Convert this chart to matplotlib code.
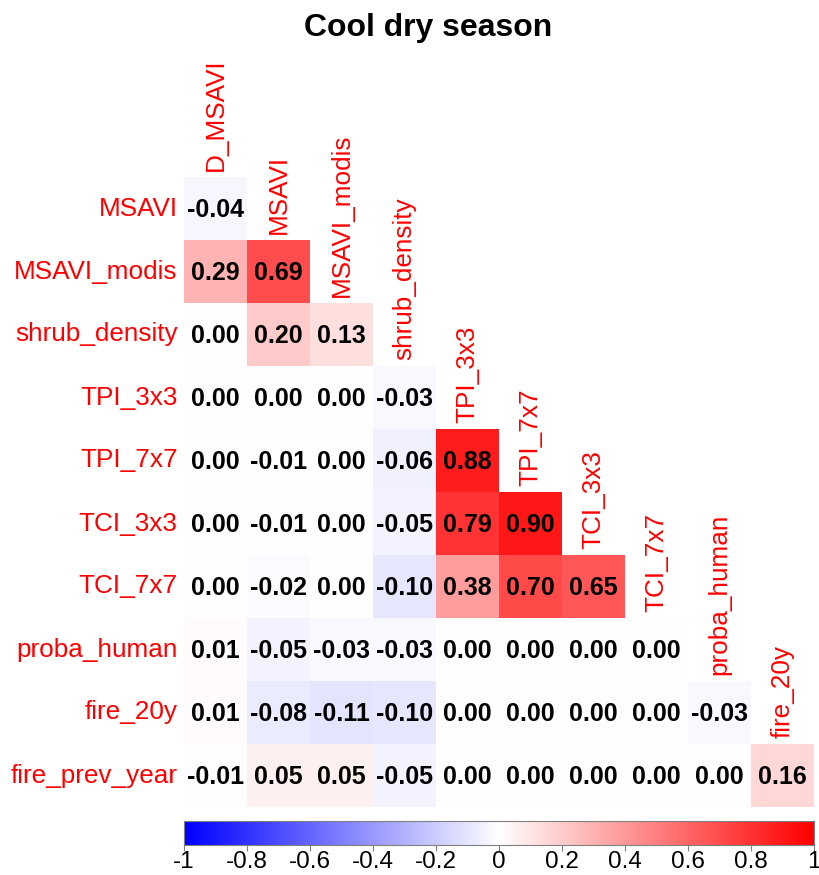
import numpy as np
import matplotlib
matplotlib.use("Agg")
import matplotlib.pyplot as plt
from matplotlib.colors import LinearSegmentedColormap

plt.rcParams['font.family'] = ['Liberation Sans', 'DejaVu Sans']

col_names = ["D_MSAVI", "MSAVI", "MSAVI_modis", "shrub_density", "TPI_3x3",
             "TPI_7x7", "TCI_3x3", "TCI_7x7", "proba_human", "fire_20y"]
row_names = ["MSAVI", "MSAVI_modis", "shrub_density", "TPI_3x3", "TPI_7x7",
             "TCI_3x3", "TCI_7x7", "proba_human", "fire_20y", "fire_prev_year"]

# lower-triangle correlations, one list per row
r_msavi = [-0.04]
r_msavi_modis = [0.29, 0.69]
r_shrub = [0.00, 0.20, 0.13]
r_tpi3 = [0.00, 0.00, 0.00, -0.03]
r_tpi7 = [0.00, -0.01, 0.00, -0.06, 0.88]
r_tci3 = [0.00, -0.01, 0.00, -0.05, 0.79, 0.90]
r_tci7 = [0.00, -0.02, 0.00, -0.10, 0.38, 0.70, 0.65]
r_human = [0.01, -0.05, -0.03, -0.03, 0.00, 0.00, 0.00, 0.00]
r_fire20 = [0.01, -0.08, -0.11, -0.10, 0.00, 0.00, 0.00, 0.00, -0.03]
r_fireprev = [-0.01, 0.05, 0.05, -0.05, 0.00, 0.00, 0.00, 0.00, 0.00, 0.16]
rows = [r_msavi, r_msavi_modis, r_shrub, r_tpi3, r_tpi7,
        r_tci3, r_tci7, r_human, r_fire20, r_fireprev]

n = len(row_names)
mat = np.full((n, n), np.nan)
for i, vals in enumerate(rows):
    mat[i, :len(vals)] = vals

cmap = LinearSegmentedColormap.from_list("bwr_corr", ["#0000FF", "#FFFFFF", "#FF0000"], N=200)

W, H = 819, 875
fig = plt.figure(figsize=(W / 100, H / 100), dpi=100)
left, top, size = 184, 177, 630
ax = fig.add_axes([left / W, 1 - (top + size) / H, size / W, size / H])
ax.imshow(np.ma.masked_invalid(mat), cmap=cmap, vmin=-1, vmax=1,
          extent=(0, n, n, 0), interpolation="nearest", aspect="auto")
ax.set_xlim(0, n)
ax.set_ylim(n, 0)
ax.axis("off")

for i, vals in enumerate(rows):
    for j, v in enumerate(vals):
        ax.text(j + 0.5, i + 0.52, f"{v:.2f}", ha="center", va="center",
                fontsize=18, fontweight="bold", color="black")

for i, name in enumerate(row_names):
    ax.text(-0.1, i + 0.5, name, ha="right", va="center", fontsize=18.8, color="#FF0000")

for j, name in enumerate(col_names):
    ax.text(j + 0.5, j - 0.1, name, ha="center", va="bottom", rotation=90,
            fontsize=18.8, color="#FF0000")

fig.text(428 / W, 1 - 28 / H, "Cool dry season",
         ha="center", va="center", fontsize=23, fontweight="bold")

# colour key
cax = fig.add_axes([left / W, 1 - 845 / H, size / W, 24 / H])
grad = np.linspace(-1, 1, 400).reshape(1, -1)
cax.imshow(grad, cmap=cmap, vmin=-1, vmax=1, extent=(-1, 1, 0, 1), aspect="auto")
cax.set_xlim(-1, 1)
cax.set_yticks([])
ticks = np.round(np.arange(-1, 1.01, 0.2), 1)
cax.set_xticks(ticks)
cax.set_xticklabels(["-1" if t == -1 else "1" if t == 1 else "0" if t == 0 else f"{t:g}" for t in ticks],
                    fontsize=17.5)
cax.tick_params(axis="x", length=4, color="#808080", pad=0.5)
for s in cax.spines.values():
    s.set_color("#808080")

fig.savefig("out.png", dpi=100)
